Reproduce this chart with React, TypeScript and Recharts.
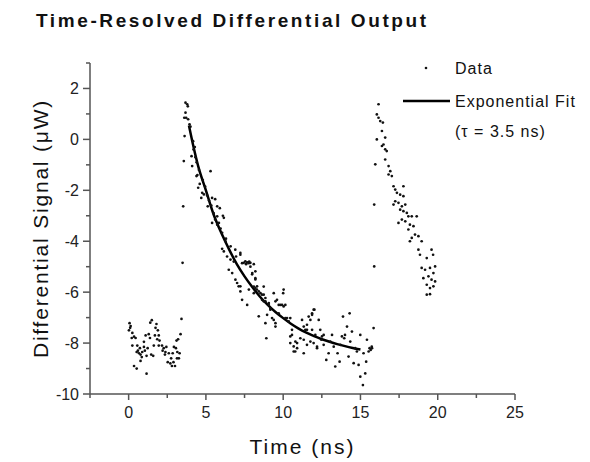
import { ComposedChart, Scatter, Line, XAxis, YAxis, Legend } from "recharts";

// raw points, [time ns, signal µW]
const preTrigger: [number, number][] = [
  [0.06, -7.22], [0.13, -7.33], [0.02, -7.5], [0.24, -7.6], [0.35, -7.75], [0.45, -7.8], [0.2, -7.8],
  [0.24, -8.1], [0.56, -8.1], [0.52, -8.35], [0.67, -8.4], [0.77, -8.45], [0.73, -8.2], [0.88, -8.35],
  [0.99, -8.15], [0.77, -8.7], [0.35, -8.9], [0.52, -9.0], [1.16, -9.2], [0.99, -7.95], [1.1, -7.7],
  [1.3, -7.65], [1.4, -7.2], [1.5, -7.1], [1.38, -7.8], [1.23, -8.2], [1.16, -8.5], [1.46, -8.45],
  [1.63, -8.1], [1.74, -7.4], [1.8, -7.25], [1.89, -7.5], [1.85, -7.85], [2.0, -7.9], [1.95, -8.1],
  [1.59, -8.5], [2.16, -8.1], [2.27, -8.2], [2.38, -8.35], [2.44, -8.15], [2.6, -8.4], [2.53, -8.75],
  [2.7, -8.8], [2.8, -8.9], [2.9, -8.75], [3.0, -8.9], [2.85, -8.4], [2.93, -8.15], [3.06, -8.2],
  [3.1, -7.9], [3.2, -7.85], [3.3, -8.4], [3.25, -8.6], [3.13, -8.6], [3.36, -7.65], [3.42, -7.05],
  [0.1, -7.4], [0.6, -8.3], [1.05, -8.3], [1.7, -7.7], [2.2, -8.3], [2.75, -8.6], [3.15, -8.35],
  [0.85, -8.55], [1.95, -7.7], [2.35, -8.45],
];

const firstPulse: [number, number][] = [
  [3.49, -4.85], [3.53, -2.63], [3.57, -0.85], [3.62, 0.13], [3.68, 1.44], [3.79, 1.38], [3.83, 1.3],
  [3.68, 1.05], [3.6, 0.85], [3.72, 0.85], [3.85, 0.79], [3.94, 0.59], [4.0, 0.5], [4.07, -0.66],
  [4.17, -0.07], [4.28, -0.3], [4.11, -1.05], [4.32, -0.7], [4.39, -1.44], [4.45, -1.4], [4.5, -1.9],
  [4.6, -1.75], [4.76, -2.1], [4.7, -2.3], [4.87, -2.16], [5.08, -2.2], [5.3, -1.25], [5.4, -2.3],
  [5.12, -2.63], [5.6, -2.35], [5.73, -2.63], [5.9, -2.7], [6.1, -3.0], [5.5, -2.9], [5.84, -3.28],
  [5.73, -3.02], [6.16, -3.08], [5.4, -3.28], [5.73, -3.35], [6.05, -3.67], [6.27, -4.0], [6.05, -4.3],
  [6.16, -4.4], [6.37, -4.6], [6.59, -4.72], [6.8, -4.8], [6.9, -4.33], [7.23, -4.53], [6.48, -5.12],
  [6.7, -5.25], [6.91, -5.51], [7.02, -5.64], [7.23, -5.77], [7.34, -6.3], [7.67, -6.5], [7.23, -4.46],
  [7.45, -4.85], [7.67, -4.83], [7.88, -4.85], [8.0, -5.25], [8.1, -4.9], [8.2, -5.45], [8.31, -5.77],
  [8.42, -6.95], [8.1, -6.04], [7.78, -5.9], [7.12, -5.77], [7.23, -5.97], [7.6, -4.9], [7.8, -4.8],
  [7.55, -4.79], [7.99, -5.3], [4.2, -0.4], [4.4, -0.9], [4.55, -1.2], [4.8, -1.6], [4.95, -1.85],
  [5.2, -2.4], [5.35, -2.6], [5.6, -3.15], [5.95, -3.5], [6.3, -3.9], [6.6, -4.2], [6.95, -4.6],
  [8.2, -5.18], [8.2, -5.5], [8.1, -5.78], [8.3, -5.9], [8.53, -6.04], [8.74, -6.1], [8.63, -6.3],
  [8.85, -6.36], [9.07, -6.43], [9.17, -6.63], [9.39, -6.04], [9.5, -6.36], [9.6, -6.3], [9.82, -6.5],
  [10.03, -5.9], [10.0, -6.04], [10.03, -6.56], [10.14, -6.5], [10.25, -7.02], [10.46, -7.02],
  [9.71, -6.83], [9.39, -7.09], [8.85, -7.22], [8.91, -7.81], [9.5, -7.35], [8.74, -5.78],
  [10.57, -7.68], [10.46, -8.0], [10.68, -8.13], [10.78, -8.33], [10.9, -8.0], [11.11, -7.81],
  [11.22, -7.09], [11.33, -8.4], [11.43, -7.48], [11.54, -7.28], [11.65, -6.96], [11.76, -7.09],
  [11.87, -6.89], [12.02, -6.69], [11.87, -7.48], [11.97, -8.0], [12.19, -8.2], [12.3, -7.09],
  [12.4, -7.48], [12.51, -7.74], [12.62, -8.07], [12.79, -8.66], [12.94, -8.4], [13.05, -7.94],
  [13.16, -7.68], [13.27, -8.14], [13.37, -8.92], [13.52, -8.4], [13.65, -8.73], [13.7, -8.07],
  [13.8, -7.74], [13.87, -6.96], [13.95, -7.81], [14.0, -7.68], [14.13, -7.35], [14.23, -8.53],
  [14.3, -6.83], [14.34, -7.94], [14.45, -7.55], [14.56, -8.79], [14.66, -8.2], [14.77, -8.33],
  [14.88, -8.86], [14.99, -7.68], [14.99, -9.32], [15.16, -9.65], [15.2, -8.4], [15.31, -9.19],
  [15.37, -8.73], [15.42, -7.87], [15.53, -8.33], [15.59, -8.2], [15.66, -8.27], [15.75, -8.2],
  [15.85, -7.41], [15.73, -8.14], [7.34, -4.86], [7.77, -4.86], [7.88, -5.0], [8.2, -5.84],
  [8.42, -5.97], [8.63, -6.1], [8.74, -6.36], [8.85, -6.23], [9.07, -6.5], [9.17, -6.69], [9.71, -6.5],
  [9.93, -6.5], [8.96, -6.89], [9.28, -7.02], [9.5, -7.22], [10.14, -7.02], [10.36, -7.15],
  [10.57, -7.48], [10.46, -7.74], [10.79, -7.94], [10.9, -8.2], [10.68, -8.33], [11.33, -7.35],
  [11.54, -7.48], [11.87, -6.83], [11.97, -6.69], [11.33, -7.87], [11.54, -8.07], [11.76, -7.94],
  [12.08, -7.68], [12.19, -8.14], [12.47, -7.87], [12.62, -7.68],
];

const secondPulse: [number, number][] = [
  [15.89, -4.99], [15.89, -2.56], [15.96, -0.98], [16.06, 0.0], [16.17, 1.38], [16.06, 0.98],
  [16.17, 0.85], [16.28, 0.72], [16.45, 0.66], [16.39, 0.33], [16.6, 0.07], [16.49, -0.2],
  [16.39, -0.26], [16.6, -0.39], [16.7, -0.46], [16.6, -0.79], [16.82, -1.05], [16.93, -1.25],
  [16.82, -1.38], [17.03, -1.44], [17.14, -1.84], [17.25, -1.97], [17.78, -1.84], [17.36, -2.1],
  [17.57, -2.17], [17.78, -2.23], [17.25, -2.43], [17.46, -2.49], [17.14, -2.56], [17.68, -2.63],
  [17.9, -2.56], [17.57, -2.76], [17.78, -2.82], [18.0, -2.89], [17.68, -3.15], [17.9, -3.22],
  [18.1, -3.02], [18.32, -3.02], [18.64, -3.02], [18.2, -3.35], [17.46, -3.28], [18.43, -3.41],
  [18.1, -3.54], [18.53, -3.74], [18.32, -3.87], [18.75, -3.8], [18.2, -4.0], [18.96, -4.0],
  [18.75, -4.33], [18.85, -4.53], [19.6, -4.33], [19.29, -4.66], [19.7, -4.53], [18.96, -5.05],
  [19.18, -5.12], [19.5, -5.05], [19.83, -4.99], [19.72, -5.25], [19.4, -5.38], [19.07, -5.45],
  [19.6, -5.51], [19.83, -5.58], [19.29, -5.71], [19.5, -5.84], [19.72, -5.77], [19.29, -6.1],
  [19.5, -6.08],
];

// exponential fit curve as drawn
const fitT = [3.9, 4.2, 4.5, 5, 5.5, 6, 6.5, 7, 7.5, 8, 8.5, 9, 9.5, 10, 10.5, 11, 11.5, 12, 12.5, 13, 13.5, 14, 14.5, 15];
const fitV = [0.55, -0.3, -1.05, -2.0, -2.95, -3.68, -4.32, -4.9, -5.38, -5.8, -6.18, -6.5, -6.78, -7.02, -7.24, -7.43, -7.59, -7.73, -7.85, -7.95, -8.04, -8.12, -8.19, -8.25];

const xTicks = [-2.5, 0, 2.5, 5, 7.5, 10, 12.5, 15, 17.5, 20, 22.5, 25];
const yTicks = [-10, -9, -8, -7, -6, -5, -4, -3, -2, -1, 0, 1, 2, 3];

const FONT = "Arial, 'Liberation Sans', sans-serif";
const AXIS = "#555";

const scatterData = [...preTrigger, ...firstPulse, ...secondPulse].map(([t, v]) => ({ t, v }));
const fitData = fitT.map((t, i) => ({ t, fit: fitV[i] }));

const Dot = (p: any) => <circle cx={p.cx} cy={p.cy} r={1.35} fill="#111" />;

const YTick = ({ x, y, payload }: any) => {
  const major = payload.value % 2 === 0;
  return (
    <g>
      <line x1={x - (major ? 7 : 4)} x2={x} y1={y} y2={y} stroke={AXIS} strokeWidth={1.5} />
      {major && (
        <text x={x - 11} y={y + 5.5} textAnchor="end" fontSize={16} fontFamily={FONT} fill="#222">
          {payload.value}
        </text>
      )}
    </g>
  );
};

const XTick = ({ x, y, payload }: any) => {
  const major = payload.value % 5 === 0;
  return (
    <g>
      <line x1={x} x2={x} y1={y} y2={y + (major ? 6 : 4)} stroke={AXIS} strokeWidth={1.5} />
      {major && (
        <text x={x} y={y + 24} textAnchor="middle" fontSize={16} fontFamily={FONT} fill="#222">
          {payload.value}
        </text>
      )}
    </g>
  );
};

const LegendBox = () => (
  <svg width={190} height={95} style={{ display: "block" }}>
    <circle cx={28} cy={18} r={1.3} fill="#111" />
    <text x={57} y={24} fontSize={16} fontFamily={FONT} letterSpacing={1} fill="#111">Data</text>
    <line x1={5} x2={52} y1={51} y2={51} stroke="#000" strokeWidth={2.5} />
    <text x={57} y={56.5} fontSize={16} fontFamily={FONT} letterSpacing={1} fill="#111">Exponential Fit</text>
    <text x={57} y={87} fontSize={16} fontFamily={FONT} letterSpacing={1} fill="#111">(τ = 3.5 ns)</text>
  </svg>
);

export default function App() {
  return (
    <div style={{ position: "fixed", left: 0, top: 0, width: 590, height: 462, background: "#fff" }}>
      <div
        style={{
          position: "absolute", left: 36, top: 11, fontFamily: FONT, fontWeight: "bold",
          fontSize: 19, lineHeight: "19px", letterSpacing: 2.6, color: "#111", whiteSpace: "nowrap",
        }}
      >
        Time-Resolved Differential Output
      </div>
      <ComposedChart width={590} height={462} margin={{ top: 63, right: 75, bottom: 0, left: 0 }}>
        <XAxis
          type="number" dataKey="t" domain={[-2.5, 25]} ticks={xTicks} interval={0}
          height={68} tickSize={0} tickMargin={0} tickLine={false} tick={<XTick />}
          axisLine={{ stroke: AXIS, strokeWidth: 1.5 }}
          label={{ value: "Time (ns)", position: "center", dy: 19, fontSize: 21, letterSpacing: 2, fontFamily: FONT, fill: "#111" }}
        />
        <YAxis
          type="number" domain={[-10, 3]} ticks={yTicks} interval={0}
          width={90} tickSize={0} tickMargin={0} tickLine={false} tick={<YTick />}
          axisLine={{ stroke: AXIS, strokeWidth: 1.5 }}
          label={{ value: "Differential Signal (μW)", angle: -90, position: "center", dx: -4, fontSize: 21, letterSpacing: 1.8, fontFamily: FONT, fill: "#111" }}
        />
        <Legend
          layout="horizontal" verticalAlign="middle" align="center" content={() => <LegendBox />}
          wrapperStyle={{ position: "absolute", left: 398, top: 50, width: 190, height: 95 }}
        />
        <Scatter name="Data" data={scatterData} dataKey="v" shape={Dot} isAnimationActive={false} />
        <Line name="Exponential Fit" data={fitData} dataKey="fit" type="monotone" dot={false}
          stroke="#000" strokeWidth={2.5} isAnimationActive={false} />
      </ComposedChart>
    </div>
  );
}
